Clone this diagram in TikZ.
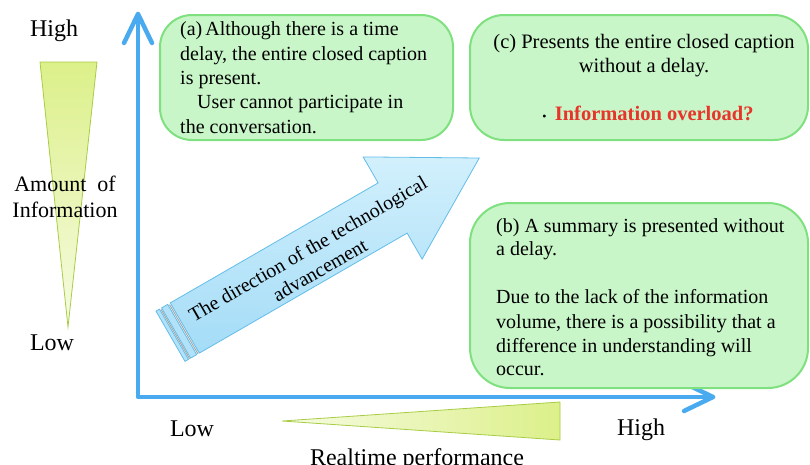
\documentclass[tikz,border=0pt]{standalone}
\usepackage{fontspec}
\setmainfont{Liberation Serif}
\usetikzlibrary{calc}
\definecolor{axisblue}{HTML}{4AAAF0}
\definecolor{boxfill}{HTML}{C8F6C8}
\definecolor{boxline}{HTML}{7EE07E}
\definecolor{trifillA}{HTML}{DCF08A}
\definecolor{trifillB}{HTML}{F6FBE2}
\definecolor{triline}{HTML}{A8CC44}
\definecolor{arrfillA}{HTML}{D2F0FC}
\definecolor{arrfillB}{HTML}{A4DCF7}
\definecolor{arrline}{HTML}{62BDE9}
\definecolor{alertred}{HTML}{E8342A}
\begin{document}
\begin{tikzpicture}[x=1pt,y=-1pt,
  axis/.style={draw=axisblue,line width=4.5pt,line join=round,line cap=round},
  capbox/.style={draw=boxline,line width=2pt,fill=boxfill,rectangle,inner sep=0},
  txt/.style={font=\fontsize{20}{24}\selectfont,inner sep=0,anchor=base west},
  ctxt/.style={font=\fontsize{20.5}{24}\selectfont,inner sep=0,anchor=base},
  lbl/.style={font=\fontsize{24}{27}\selectfont,inner sep=0},
  tri/.style={draw=triline,line width=0.8pt}
]
\useasboundingbox (0,0) rectangle (810,464);

% axes
\coordinate (O) at (138,397);
\coordinate (ytip) at (138,14);
\coordinate (xtip) at (713,397);
\coordinate (yl) at (124,43);
\coordinate (yr) at (152,43);
\coordinate (xu) at (684,383);
\coordinate (xd) at (684,411);
\draw[axis] (ytip) -- (O) -- (xtip);
\draw[axis] (yl) -- (ytip) -- (yr);
\draw[axis] (xu) -- (xtip) -- (xd);

% indicator triangles
\path[tri,top color=trifillA,bottom color=trifillB] (40,62) -- (97,62) -- (68,327) -- cycle;
\path[tri,left color=trifillB,right color=trifillA] (282,421) -- (560,402) -- (560,440) -- cycle;

% axis labels
\node[lbl] (hiY) at (54,31) {High};
\node[lbl,font=\fontsize{22}{26}\selectfont] (amt) at (65,184) {Amount\hspace{0.25em} of};
\node[lbl,font=\fontsize{22}{26}\selectfont] (info) at (65,210) {Information};
\node[lbl] (loY) at (52,343) {Low};
\node[lbl] (loX) at (192,429) {Low};
\node[lbl] (hiX) at (641,430) {High};
\node[lbl,anchor=base] (rt) at (417,465) {Realtime performance};

% boxes
\node[capbox,rounded corners=32pt,minimum width=293pt,minimum height=125pt] (boxa) at (306.5,77.5) {};
\node[capbox,rounded corners=34pt,minimum width=338pt,minimum height=125pt] (boxc) at (639,77.5) {};
\node[capbox,rounded corners=40pt,minimum width=338pt,minimum height=185pt] (boxb) at (639,295.5) {};

% box (a) text
\node[txt] (a1) at (180,35) {(a)\hspace{0.15em}Although there is a time};
\node[txt] (a2) at (180,60) {delay, the entire closed caption};
\node[txt] (a3) at (180,84) {is present.};
\node[txt] (a4) at (197,108) {User cannot participate in};
\node[txt] (a5) at (180,133) {the conversation.};

% box (c) text
\node[ctxt] (c1) at (644,48) {(c) Presents the entire closed caption};
\node[ctxt] (c2) at (644,72) {without a delay.};
\node[ctxt] (c3) at (648,120) {{\fontsize{12}{14}\selectfont\textbullet}\hspace{0.4em}\textcolor{alertred}{\bfseries Information overload?}};

% box (b) text
\node[txt] (b1) at (496,232) {(b) A summary is presented without};
\node[txt] (b2) at (496,255) {a delay.};
\node[txt] (b3) at (496,303) {Due to the lack of the information};
\node[txt] (b4) at (496,328) {volume, there is a possibility that a};
\node[txt] (b5) at (496,352) {difference in understanding will};
\node[txt] (b6) at (496,375) {occur.};

% big diagonal arrow
\begin{scope}[shift={(188.25,326)},rotate=30]
  \path[draw=arrline,line width=0.8pt,top color=arrfillA,bottom color=arrfillB]
    (-4,-29) -- (236,-29) -- (236,-59) -- (336,0) -- (236,59) -- (236,29) -- (-4,29) -- cycle;
  \path[draw=arrline,line width=0.8pt,fill=arrfillB!70!arrfillA] (-14,-29) rectangle (-7,29);
  \path[draw=arrline,line width=0.8pt,fill=arrfillB!70!arrfillA] (-20.5,-29) rectangle (-16.5,29);
  \draw[gray!70,line width=1pt] (-5.5,-28) -- (-5.5,29);
  \draw[gray!70,line width=1pt] (-15.2,-28) -- (-15.2,29);
  \node[transform shape,font=\fontsize{20}{24}\selectfont,align=center,inner sep=0] (arrtext) at (142,5)
    {The direction of the technological\\advancement};
\end{scope}
\end{tikzpicture}
\end{document}
